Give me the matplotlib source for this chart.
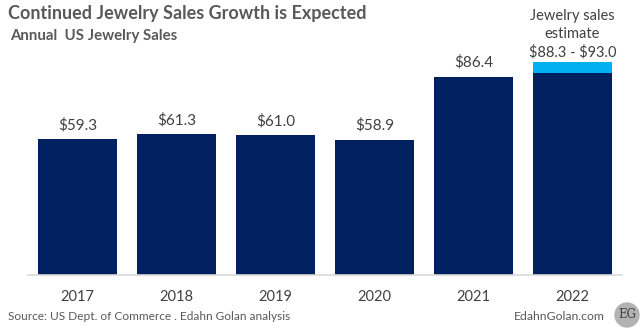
import matplotlib
matplotlib.use("Agg")
import matplotlib.pyplot as plt
from matplotlib.patches import Circle

# --- Data ---------------------------------------------------------------
years = ["2017", "2018", "2019", "2020", "2021", "2022"]
sales = [59.3, 61.3, 61.0, 58.9, 86.4, 88.3]
labels = [r"\$59.3", r"\$61.3", r"\$61.0", r"\$58.9", r"\$86.4", ""]
estimate_low = 88.3
estimate_high = 93.0
estimate_label = "Jewelry sales\nestimate\n\\$88.3 - \\$93.0"

NAVY = "#002060"
LIGHT = "#00B0F0"
TEXT = "#404040"
TITLE = "#595959"

plt.rcParams["font.family"] = ["Lato", "DejaVu Sans"]

fig = plt.figure(figsize=(6.43, 3.30), dpi=100)
ax = fig.add_axes([28 / 643, 55 / 330, 594 / 643, 229.3 / 330])

x = list(range(len(years)))
ax.bar(x, sales, width=0.8, color=NAVY, zorder=2)
ax.bar([x[-1]], [estimate_high - estimate_low], bottom=[estimate_low],
       width=0.8, color=LIGHT, zorder=2)

for xi, v, lab in zip(x, sales, labels):
    if lab:
        ax.annotate(lab, (xi, v), xytext=(0, 5), textcoords="offset points",
                    ha="center", va="bottom", fontsize=11, color=TEXT)

ax.annotate(estimate_label, (x[-1], estimate_high), xytext=(0, 1.5),
            textcoords="offset points", ha="center", va="bottom",
            fontsize=10.5, color=TEXT, linespacing=1.35)

ax.set_xlim(-0.5, 5.5)
ax.set_ylim(0, 100)
ax.set_xticks(x)
ax.set_xticklabels(years, fontsize=10.5, color=TEXT)
ax.tick_params(axis="x", length=0, pad=11)
ax.set_yticks([])
for s in ("top", "right", "left"):
    ax.spines[s].set_visible(False)
ax.spines["bottom"].set_color("#d9d9d9")
ax.spines["bottom"].set_linewidth(1.2)

fig.text(8 / 643, 1 - 14 / 330, "Continued Jewelry Sales Growth is Expected",
         fontsize=13, fontweight="bold", fontstyle="normal", color=TITLE, va="center")
fig.text(10 / 643, 1 - 36 / 330, "Annual  US Jewelry Sales",
         fontsize=10.8, fontweight="bold", fontstyle="normal", color=TITLE, va="center")
fig.text(8 / 643, 1 - 316 / 330, "Source: US Dept. of Commerce . Edahn Golan analysis",
         fontsize=8.6, color="#595959", va="center")
fig.text(605 / 643, 1 - 316 / 330, "EdahnGolan.com",
         fontsize=8.8, color="#595959", va="center", ha="right")

logo = Circle((6.27, 0.15), 0.12, transform=fig.dpi_scale_trans,
              color="#b3b3b3", zorder=3)
fig.add_artist(logo)
fig.text(627 / 643, 15 / 330, "EG", fontsize=8.5, family="DejaVu Serif",
         color="#404040", ha="center", va="center", zorder=4)

fig.savefig("out.png", dpi=100)
